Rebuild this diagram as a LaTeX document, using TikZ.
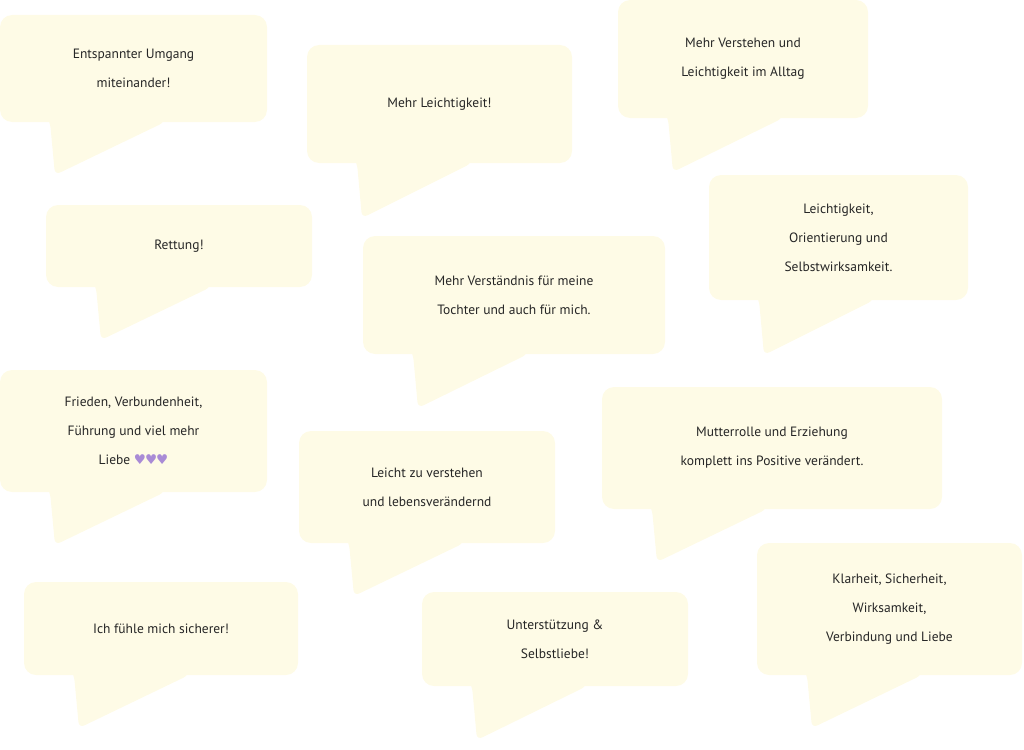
\documentclass[tikz,border=0pt]{standalone}
\usepackage{fontspec}
\setmainfont{PT Sans}
\newfontfamily\symfont{DejaVu Sans}
\definecolor{bubblefill}{HTML}{FEFBE6}
\definecolor{heartcol}{HTML}{A98BD6}
\newcommand{\heart}{{\symfont\color{heartcol}\char"2665}}
% box: name, left, top, right, bottom, tip y, text
\newcommand{\bubble}[7]{%
    \fill[bubblefill, rounded corners=12pt] (#2,#3) rectangle (#4,#5);
    \fill[bubblefill, rounded corners=6pt] (#2+44,#5-10) -- (#2+50,#5) -- (#2+55,#6) -- (#2+165,#5) -- (#2+165,#5-10) -- cycle;
    \node[txt] (#1) at ({(#2+#4)/2},{(#3+#5)/2}) {#7};
}

\begin{document}
\begin{tikzpicture}[x=1pt, y=-1pt,
    txt/.style={align=center, font=\fontsize{13.5}{29}\selectfont, text=black!85}]
    \useasboundingbox (0,0) rectangle (1024,749);
    \bubble{umgang}{0}{15}{267}{122}{175}{Entspannter Umgang\\miteinander!}
    \bubble{leicht}{307}{45}{572}{163}{218}{Mehr Leichtigkeit!}
    \bubble{verstehen}{618}{0}{868}{118}{172}{Mehr Verstehen und\\Leichtigkeit im Alltag}
    \bubble{rettung}{46}{205}{312}{287}{340}{Rettung!}
    \bubble{tochter}{363}{236}{665}{354}{408}{Mehr Verständnis für meine\\Tochter und auch für mich.}
    \bubble{orient}{709}{175}{968}{300}{355}{Leichtigkeit,\\Orientierung und\\Selbstwirksamkeit.}
    \bubble{frieden}{0}{370}{267}{492}{545}{Frieden, Verbundenheit,\\Führung und viel mehr\\Liebe \heart\kern-1pt\heart\kern-1pt\heart}
    \bubble{leben}{299}{431}{555}{543}{596}{Leicht zu verstehen\\und lebensverändernd}
    \bubble{mutter}{602}{387}{942}{509}{562}{Mutterrolle und Erziehung\\komplett ins Positive verändert.}
    \bubble{sicher}{24}{582}{298}{675}{728}{Ich fühle mich sicherer!}
    \bubble{selbst}{422}{592}{688}{686}{740}{Unterstützung \&\\Selbstliebe!}
    \bubble{klar}{757}{543}{1022}{675}{728}{Klarheit, Sicherheit,\\Wirksamkeit,\\Verbindung und Liebe}
\end{tikzpicture}
\end{document}
